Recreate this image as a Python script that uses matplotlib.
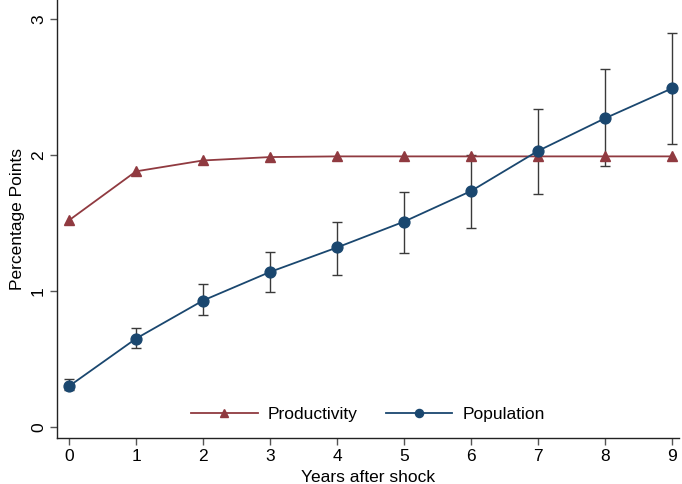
import numpy as np
import matplotlib
matplotlib.use("Agg")
import matplotlib.pyplot as plt

plt.rcParams['font.family'] = ['Liberation Sans', 'DejaVu Sans']

years = [0, 1, 2, 3, 4, 5, 6, 7, 8, 9]
productivity = [1.52, 1.88, 1.96, 1.985, 1.99, 1.99, 1.99, 1.99, 1.99, 1.99]
population = [0.30, 0.65, 0.93, 1.14, 1.32, 1.51, 1.735, 2.03, 2.27, 2.49]
pop_hi = [0.35, 0.73, 1.05, 1.29, 1.51, 1.73, 2.00, 2.34, 2.63, 2.90]
pop_lo = [0.27, 0.58, 0.82, 0.99, 1.12, 1.28, 1.46, 1.71, 1.92, 2.08]

red = '#903a40'
navy = '#1a476f'

fig = plt.figure(figsize=(6.82, 4.84), dpi=100)
ax = fig.add_axes([0.0836, 0.095, 0.912, 0.905])

pop = np.array(population)
yerr = [pop - np.array(pop_lo), np.array(pop_hi) - pop]

ax.plot(years, productivity, color=red, marker='^', markersize=7.5, lw=1.3,
        label='Productivity', zorder=3)
ax.errorbar(years, population, yerr=yerr, fmt='none', ecolor='#3a3a3a',
            elinewidth=1.0, capsize=3.3, capthick=1.0, zorder=2)
ax.plot(years, population, color=navy, marker='o', markersize=7.8, lw=1.3,
        label='Population', zorder=4)

ax.set_xlim(-0.179, 9.105)
ax.set_ylim(-0.081, 3.14)
ax.set_xticks(years)
ax.set_yticks([0, 1, 2, 3])

for s in ['top', 'right']:
    ax.spines[s].set_visible(False)
for s in ['left', 'bottom']:
    ax.spines[s].set_color('#222222')
    ax.spines[s].set_linewidth(1.0)

ax.tick_params(axis='both', direction='out', length=5, width=1, color='#555555',
               labelsize=12.5, pad=3)
for lbl in ax.get_yticklabels():
    lbl.set_rotation(90)
    lbl.set_va('center')

ax.set_xlabel('Years after shock', fontsize=12.5, labelpad=4)
ax.set_ylabel('Percentage Points', fontsize=12.5, labelpad=4)

ax.legend(loc='lower center', bbox_to_anchor=(0.5, 0.0), ncol=2, frameon=False,
          fontsize=12.5, handlelength=3.85, columnspacing=1.6, handletextpad=0.6,
          markerscale=0.75)

fig.savefig('out.png', dpi=100)
